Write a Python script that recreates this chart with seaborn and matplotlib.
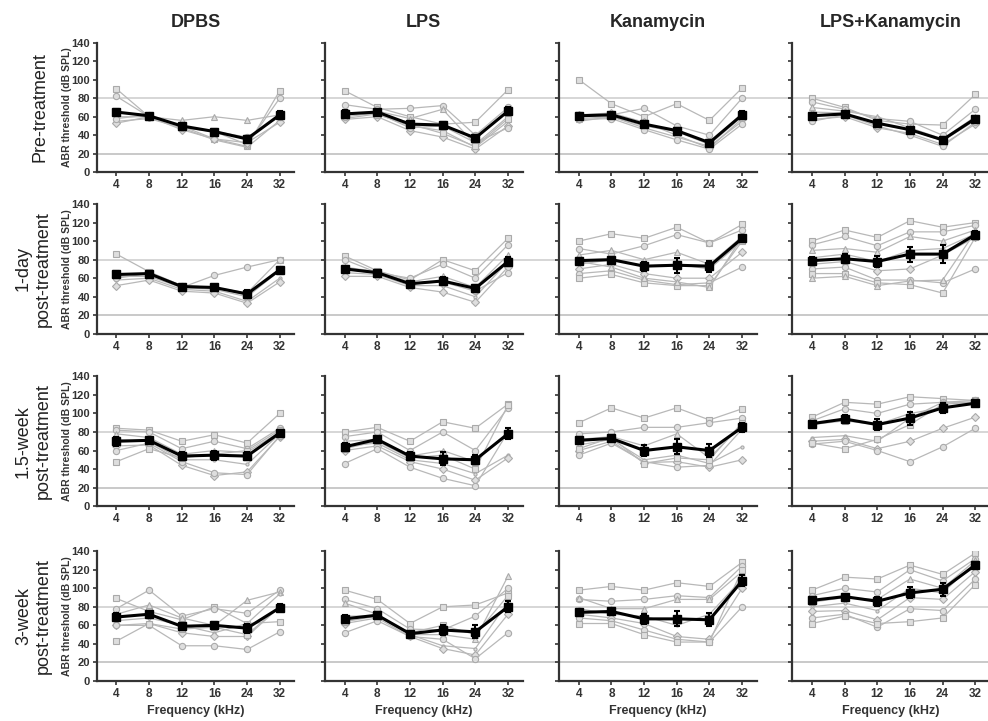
import seaborn as sns
import pandas as pd
import numpy as np
import matplotlib.pyplot as plt

freqs = ['4', '8', '12', '16', '24', '32']
groups = ['DPBS', 'LPS', 'Kanamycin', 'LPS+Kanamycin']
times = ['Pre-treatment', '1-day\npost-treatment', '1.5-week\npost-treatment', '3-week\npost-treatment']

# ---- Pre-treatment ----
dpbs_pre_mean = [65, 61, 50, 44, 36, 62]
dpbs_pre_sem = [3, 1, 2, 3, 3, 4]
dpbs_pre_animals = [[90, 60, 50, 36, 28, 88], [82, 60, 50, 44, 30, 80], [60, 60, 56, 60, 56, 62],
                    [55, 58, 48, 35, 27, 56], [53, 60, 46, 36, 32, 54], [58, 62, 48, 44, 38, 60]]
lps_pre_mean = [63, 65, 52, 51, 37, 66]
lps_pre_sem = [4, 2, 2, 3, 3, 4]
lps_pre_animals = [[88, 70, 60, 52, 54, 89], [73, 68, 69, 72, 40, 70], [62, 66, 58, 68, 30, 60],
                   [58, 63, 50, 45, 27, 55], [57, 60, 45, 38, 25, 50], [60, 64, 48, 50, 32, 48],
                   [65, 62, 52, 42, 28, 58]]
kan_pre_mean = [61, 62, 52, 45, 32, 62]
kan_pre_sem = [3, 2, 3, 3, 3, 4]
kan_pre_animals = [[100, 74, 60, 74, 56, 91], [60, 62, 69, 50, 40, 80], [58, 60, 50, 44, 30, 60],
                   [55, 60, 48, 38, 28, 55], [62, 64, 54, 40, 26, 58], [57, 58, 46, 35, 25, 52]]
lk_pre_mean = [61, 63, 53, 46, 35, 58]
lk_pre_sem = [3, 2, 2, 2, 3, 3]
lk_pre_animals = [[80, 70, 56, 52, 51, 84], [76, 68, 58, 55, 40, 68], [70, 66, 60, 48, 36, 60],
                  [65, 64, 52, 46, 34, 56], [57, 60, 48, 42, 30, 52], [55, 62, 50, 40, 28, 54]]

# ---- 1-day post-treatment ----
dpbs_1d_mean = [64, 65, 51, 50, 43, 69]
dpbs_1d_sem = [4, 2, 2, 3, 4, 3]
dpbs_1d_animals = [[86, 67, 52, 50, 44, 80], [65, 64, 50, 63, 72, 80], [62, 62, 50, 48, 40, 68],
                   [58, 60, 48, 46, 35, 60], [52, 58, 46, 44, 33, 56], [60, 65, 52, 50, 42, 70]]
lps_1d_mean = [70, 66, 54, 57, 49, 78]
lps_1d_sem = [3, 2, 2, 4, 4, 5]
lps_1d_animals = [[84, 68, 58, 80, 68, 103], [80, 66, 60, 75, 60, 96], [72, 67, 56, 62, 50, 85],
                  [66, 64, 52, 52, 40, 78], [62, 62, 50, 45, 34, 72], [70, 65, 54, 56, 46, 66]]
kan_1d_mean = [79, 80, 73, 74, 73, 103]
kan_1d_sem = [3, 3, 5, 8, 6, 4]
kan_1d_animals = [[100, 108, 103, 115, 98, 118], [92, 86, 95, 107, 98, 112], [85, 90, 80, 88, 75, 105],
                  [75, 80, 73, 75, 70, 100], [70, 75, 65, 60, 60, 88], [65, 68, 58, 53, 55, 72],
                  [60, 64, 55, 52, 52, 100], [78, 72, 60, 56, 50, 104]]
lk_1d_mean = [79, 81, 78, 86, 86, 107]
lk_1d_sem = [4, 5, 6, 8, 10, 4]
lk_1d_animals = [[100, 112, 104, 122, 115, 120], [96, 105, 95, 110, 110, 117], [90, 92, 88, 105, 100, 112],
                 [82, 86, 78, 90, 92, 108], [75, 78, 68, 70, 85, 104], [70, 72, 58, 58, 55, 70],
                 [65, 65, 55, 53, 44, 104], [60, 62, 52, 57, 58, 110]]

# ---- 1.5-week post-treatment ----
dpbs_15w_mean = [70, 71, 54, 55, 54, 79]
dpbs_15w_sem = [5, 3, 4, 5, 4, 3]
dpbs_15w_animals = [[84, 82, 70, 77, 68, 100], [82, 80, 62, 70, 62, 84], [78, 74, 56, 60, 58, 80],
                    [72, 70, 50, 50, 45, 78], [65, 66, 44, 33, 37, 75], [60, 68, 48, 36, 34, 76],
                    [48, 62, 52, 56, 60, 82]]
lps_15w_mean = [64, 72, 54, 51, 50, 78]
lps_15w_sem = [4, 3, 4, 7, 5, 6]
lps_15w_animals = [[80, 85, 70, 91, 84, 110], [75, 80, 60, 80, 60, 106], [70, 72, 54, 60, 48, 80],
                   [65, 68, 50, 46, 35, 55], [60, 65, 48, 40, 28, 52], [46, 62, 42, 30, 22, 80],
                   [62, 70, 52, 55, 40, 109]]
kan_15w_mean = [71, 73, 60, 64, 60, 85]
kan_15w_sem = [4, 3, 6, 8, 7, 5]
kan_15w_animals = [[90, 106, 95, 106, 93, 105], [78, 80, 85, 85, 90, 95], [72, 75, 65, 78, 52, 88],
                   [66, 72, 50, 55, 46, 64], [60, 70, 47, 48, 42, 50], [55, 68, 48, 42, 44, 83],
                   [62, 74, 46, 52, 50, 90]]
lk_15w_mean = [89, 94, 88, 95, 106, 111]
lk_15w_sem = [3, 4, 6, 7, 5, 3]
lk_15w_animals = [[96, 112, 110, 118, 116, 114], [92, 105, 100, 110, 112, 114], [88, 92, 88, 100, 106, 112],
                  [74, 76, 70, 95, 112, 112], [70, 72, 62, 70, 84, 96], [67, 70, 60, 48, 64, 84],
                  [68, 62, 72, 88, 110, 112]]

# ---- 3-week post-treatment ----
dpbs_3w_mean = [69, 72, 59, 60, 57, 79]
dpbs_3w_sem = [4, 4, 4, 4, 5, 4]
dpbs_3w_animals = [[89, 75, 66, 80, 62, 64], [78, 98, 70, 78, 73, 98], [72, 82, 68, 60, 87, 96],
                   [65, 68, 60, 52, 62, 94], [60, 62, 52, 48, 48, 80], [60, 60, 38, 38, 34, 53],
                   [43, 62, 56, 58, 50, 80]]
lps_3w_mean = [67, 71, 51, 55, 53, 80]
lps_3w_sem = [4, 3, 3, 5, 7, 6]
lps_3w_animals = [[98, 88, 62, 80, 82, 95], [88, 78, 56, 55, 70, 100], [84, 72, 50, 50, 45, 113],
                  [70, 70, 50, 38, 35, 85], [62, 68, 48, 35, 28, 72], [52, 65, 48, 45, 24, 52],
                  [64, 70, 52, 60, 50, 92]]
kan_3w_mean = [74, 75, 67, 67, 66, 108]
kan_3w_sem = [4, 3, 5, 8, 7, 6]
kan_3w_animals = [[98, 102, 98, 106, 102, 128], [88, 86, 88, 92, 90, 124], [90, 78, 78, 88, 88, 118],
                  [78, 72, 70, 60, 72, 110], [72, 68, 62, 48, 45, 100], [68, 65, 55, 45, 42, 80],
                  [62, 62, 50, 42, 42, 120]]
lk_3w_mean = [87, 91, 86, 95, 99, 125]
lk_3w_sem = [4, 3, 5, 6, 7, 3]
lk_3w_animals = [[98, 112, 110, 125, 115, 138], [92, 100, 96, 120, 108, 132], [85, 90, 88, 110, 100, 130],
                 [80, 84, 76, 100, 95, 128], [75, 76, 66, 90, 88, 118], [68, 72, 58, 78, 76, 110],
                 [62, 70, 62, 64, 68, 104]]

panels = [
    [(dpbs_pre_mean, dpbs_pre_sem, dpbs_pre_animals), (lps_pre_mean, lps_pre_sem, lps_pre_animals),
     (kan_pre_mean, kan_pre_sem, kan_pre_animals), (lk_pre_mean, lk_pre_sem, lk_pre_animals)],
    [(dpbs_1d_mean, dpbs_1d_sem, dpbs_1d_animals), (lps_1d_mean, lps_1d_sem, lps_1d_animals),
     (kan_1d_mean, kan_1d_sem, kan_1d_animals), (lk_1d_mean, lk_1d_sem, lk_1d_animals)],
    [(dpbs_15w_mean, dpbs_15w_sem, dpbs_15w_animals), (lps_15w_mean, lps_15w_sem, lps_15w_animals),
     (kan_15w_mean, kan_15w_sem, kan_15w_animals), (lk_15w_mean, lk_15w_sem, lk_15w_animals)],
    [(dpbs_3w_mean, dpbs_3w_sem, dpbs_3w_animals), (lps_3w_mean, lps_3w_sem, lps_3w_animals),
     (kan_3w_mean, kan_3w_sem, kan_3w_animals), (lk_3w_mean, lk_3w_sem, lk_3w_animals)],
]

sns.set_style('ticks')
plt.rcParams['font.family'] = ['Liberation Sans', 'DejaVu Sans']

fig = plt.figure(figsize=(9.88, 7.21), dpi=100)
col_left = [0.098, 0.329, 0.566, 0.802]
row_bottom = [0.761, 0.537, 0.298, 0.0555]
ax_w, ax_h = 0.2, 0.18
marker_list = ['s', 'o', '^', '.', 'D', 'o', 's', '^']
x = np.arange(len(freqs))

for r in range(4):
    for c in range(4):
        mean, sem, animals = panels[r][c]
        ax = fig.add_axes([col_left[c], row_bottom[r], ax_w, ax_h])

        # reference lines at 20 and 80 dB, running past the right spine
        for yref, col in [(80, '#cccccc'), (20, '#bbbbbb')]:
            ax.plot([0, 1.17], [yref, yref], transform=ax.get_yaxis_transform(),
                    color=col, lw=1.1, clip_on=False, zorder=0)

        df = pd.DataFrame({
            'x': np.tile(x, len(animals)),
            'thr': np.concatenate(animals),
            'animal': np.repeat(np.arange(len(animals)), len(x)).astype(str),
        })
        sns.lineplot(data=df, x='x', y='thr', style='animal', units='animal', estimator=None,
                     markers=marker_list[:len(animals)], dashes=False, color='#b8b8b8',
                     lw=0.9, ms=4.5, mec='#aaaaaa', mfc='#dedede', mew=0.8,
                     legend=False, ax=ax, zorder=2)

        ax.errorbar(x, mean, yerr=sem, color='black', lw=2.2, marker='s', ms=5.5,
                    capsize=2.5, elinewidth=1.5, capthick=1.5, zorder=5)

        ax.set_xlim(-0.6, 5.45)
        ax.set_ylim(0, 140)
        ax.set_yticks(range(0, 141, 20))
        ax.set_xticks(x)
        ax.set_xticklabels(freqs)
        sns.despine(ax=ax)
        for s in ['left', 'bottom']:
            ax.spines[s].set_linewidth(1.6)
            ax.spines[s].set_color('#333333')
        ax.tick_params(length=3, width=1.2, color='#333333', labelsize=8, pad=2)
        ax.tick_params(axis='x', labelsize=8.5)
        for lab in ax.get_xticklabels() + ax.get_yticklabels():
            lab.set_fontweight('bold')
            lab.set_color('#333333')
        ax.set_xlabel('')
        ax.set_ylabel('')
        if c == 0:
            ax.set_ylabel('ABR threshold (dB SPL)', fontsize=7.5, fontweight='bold', color='#333333')
            ax.yaxis.set_label_coords(-0.125, 0.5)
        else:
            ax.tick_params(labelleft=False)
        if r == 3:
            ax.set_xlabel('Frequency (kHz)', fontsize=9, fontweight='bold', color='#333333', labelpad=4)
        if r == 0:
            fig.text(col_left[c] + ax_w / 2, 0.969, groups[c], ha='center', va='center',
                     fontsize=13, fontweight='bold')
    fig.text(0.040 if r == 0 else 0.034, row_bottom[r] + ax_h / 2, times[r], rotation=90,
             ha='center', va='center', fontsize=13, multialignment='center', linespacing=1.25,
             color='#222222')

fig.savefig('out.png', dpi=100)
